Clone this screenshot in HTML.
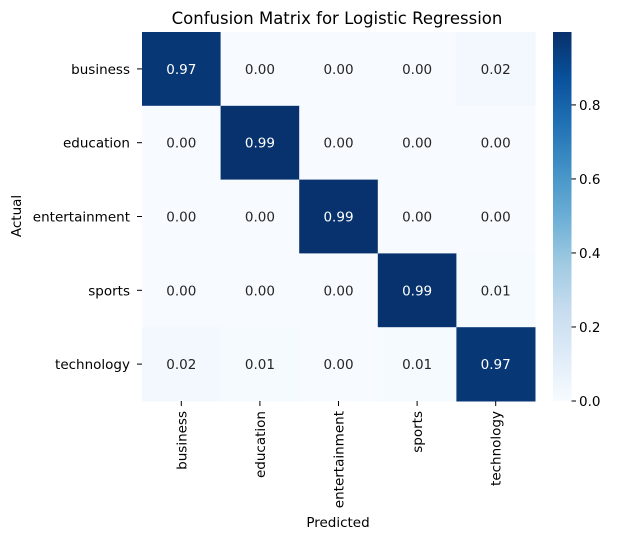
<!DOCTYPE html>
<html><head><meta charset="utf-8"><style>
body{margin:0;background:#fff}
svg text{font-family:"DejaVu Sans","Liberation Sans",sans-serif;fill:#000}
</style></head><body>
<svg id="chart" width="621" height="541" xmlns="http://www.w3.org/2000/svg">
<text x="337" y="24" font-size="16.5" text-anchor="middle">Confusion Matrix for Logistic Regression</text>
<g id="cells"></g>
<g id="yticks"></g>
<g id="xticks"></g>
<text x="338" y="527" font-size="13.5" text-anchor="middle">Predicted</text>
<text transform="translate(21,216) rotate(-90)" font-size="13.5" text-anchor="middle">Actual</text>
<defs><linearGradient id="cbg" x1="0" y1="1" x2="0" y2="0"></linearGradient></defs>
<rect x="553" y="32" width="18.5" height="369" fill="url(#cbg)"/>
<g id="cbticks"></g>
</svg>
<script>
const labels=["business","education","entertainment","sports","technology"];
const row0=[0.97,0.00,0.00,0.00,0.02];
const row1=[0.00,0.99,0.00,0.00,0.00];
const row2=[0.00,0.00,0.99,0.00,0.00];
const row3=[0.00,0.00,0.00,0.99,0.01];
const row4=[0.02,0.01,0.00,0.01,0.97];
const cbTicks=[0.0,0.2,0.4,0.6,0.8];
const matrix=[row0,row1,row2,row3,row4];
const NS="http://www.w3.org/2000/svg";
const X0=142,X1=535,Y0=32,Y1=401;
const n=labels.length, cw=(X1-X0)/n, ch=(Y1-Y0)/n;
const vmin=0, vmax=0.997;
const blues=["#f7fbff","#deebf7","#c6dbef","#9ecae1","#6baed6","#4292c6","#2171b5","#08519c","#08306b"];
function hex(h){return [1,3,5].map(i=>parseInt(h.substr(i,2),16));}
function color(v){let t=Math.max(0,Math.min(1,(v-vmin)/(vmax-vmin)))*(blues.length-1);let i=Math.min(Math.floor(t),blues.length-2),f=t-i;const a=hex(blues[i]),b=hex(blues[i+1]);return "rgb("+a.map((c,k)=>Math.round(c+(b[k]-c)*f)).join(",")+")";}
function mk(tag,attrs,parent){const e=document.createElementNS(NS,tag);for(const k in attrs)e.setAttribute(k,attrs[k]);parent.appendChild(e);return e;}
const cells=document.getElementById("cells");
matrix.forEach((row,r)=>row.forEach((v,c)=>{
 const rc=mk("rect",{x:X0+c*cw,y:Y0+r*ch,width:cw+0.5,height:ch+0.5,fill:color(v)},cells);
 
 
 const t=mk("text",{x:X0+(c+0.5)*cw,y:Y0+(r+0.5)*ch+5,"font-size":"13.5","text-anchor":"middle"},cells);
 t.style.fill=(v-vmin)/(vmax-vmin)>0.5?"#fff":"#262626";
 t.textContent=v.toFixed(2);
 
 
}));
const yt=document.getElementById("yticks"), xt=document.getElementById("xticks");
labels.forEach((l,i)=>{
 const y=Y0+(i+0.5)*ch;
 mk("line",{x1:X0-5,x2:X0,y1:y,y2:y,stroke:"#000","stroke-width":1},yt);
 const t=mk("text",{x:X0-12,y:y+5,"font-size":"13.5","text-anchor":"end"},yt);t.textContent=l;
 
 
 const x=X0+(i+0.5)*cw;
 mk("line",{x1:x,x2:x,y1:Y1,y2:Y1+5,stroke:"#000","stroke-width":1},xt);
 const u=mk("text",{transform:"translate("+(x+5)+","+(Y1+10)+") rotate(-90)","font-size":"13.5","text-anchor":"end"},xt);u.textContent=l;
 
 
});
const g=document.getElementById("cbg");
blues.forEach((b,i)=>mk("stop",{offset:(i/(blues.length-1)),"stop-color":b},g));
const cb=document.getElementById("cbticks");
cbTicks.forEach(v=>{
 const y=Y1-(v-vmin)/(vmax-vmin)*(Y1-Y0);
 mk("line",{x1:571.5,x2:576,y1:y,y2:y,stroke:"#000","stroke-width":1},cb);
 const t=mk("text",{x:579,y:y+5,"font-size":"13.5"},cb);t.textContent=v.toFixed(1);
 
 
});
</script>
</body></html>
